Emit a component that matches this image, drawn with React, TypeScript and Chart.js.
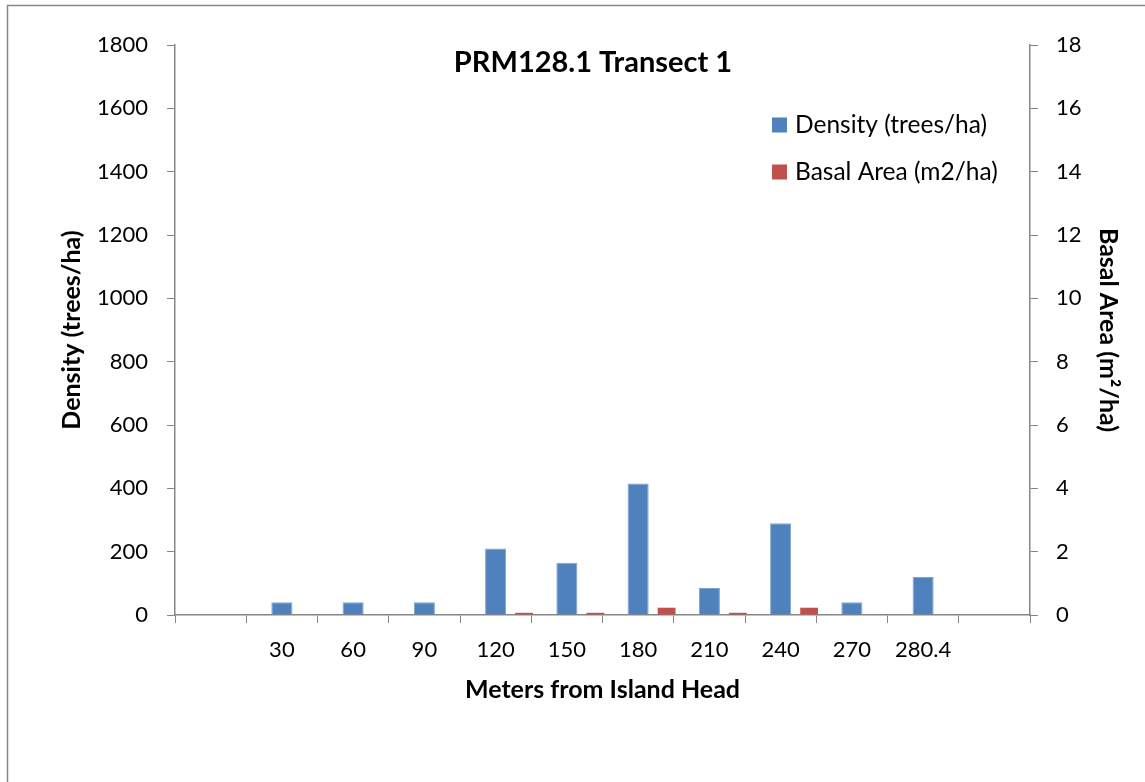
import React, { useEffect, useRef } from "react";
import { Chart, registerables } from "chart.js";

Chart.register(...registerables);

const categories = ["", "30", "60", "90", "120", "150", "180", "210", "240", "270", "280.4", ""];
const density = [null, 40, 40, 40, 210, 165, 415, 85, 290, 40, 120, null];
const basalArea = [null, 0, 0, 0, 0.07, 0.07, 0.23, 0.07, 0.23, 0, 0, null];
const blanks = categories.map(() => null);

const chartTitle = "PRM128.1 Transect 1";
const densityLabel = "Density (trees/ha)";
const basalLabel = "Basal Area (m2/ha)";
const xTitle = "Meters from Island Head";
const yLeftTitle = "Density (trees/ha)";
const yRightTitle = "Basal Area (m\u00B2/ha)";

const BLUE = "#4F81BD";
const RED = "#C0504D";
const AXIS = "#868686";
const FONT = "Lato";

export default function App() {
  const ref = useRef<HTMLCanvasElement>(null);

  useEffect(() => {
    const canvas = ref.current!;
    const decor = {
      id: "decor",
      beforeDraw(chart: any) {
        const ctx = chart.ctx;
        ctx.save();
        ctx.fillStyle = "#fff";
        ctx.fillRect(0, 0, chart.width, chart.height);
        ctx.strokeStyle = AXIS;
        ctx.lineWidth = 1.5;
        ctx.beginPath();
        ctx.moveTo(7.5, 782);
        ctx.lineTo(7.5, 5.5);
        ctx.lineTo(1145, 5.5);
        ctx.stroke();
        ctx.restore();
      },
      afterDraw(chart: any) {
        const ctx = chart.ctx;
        ctx.save();
        ctx.fillStyle = "#000";
        ctx.textBaseline = "middle";
        ctx.textAlign = "center";
        ctx.font = `bold 29px ${FONT}`;
        ctx.fillText(chartTitle, 593, 63);
        ctx.textAlign = "left";
        ctx.font = `24.5px ${FONT}`;
        const items = [
          { label: densityLabel, color: BLUE, y: 125 },
          { label: basalLabel, color: RED, y: 172 },
        ];
        for (const it of items) {
          ctx.fillStyle = it.color;
          ctx.fillRect(772, it.y - 7.5, 15, 15);
          ctx.fillStyle = "#000";
          ctx.fillText(it.label, 795, it.y);
        }
        ctx.restore();
      },
    };

    const chart = new Chart(canvas, {
      type: "bar",
      data: {
        labels: categories,
        datasets: [
          { label: "", data: blanks, yAxisID: "y", stack: "s0" },
          { label: "", data: blanks, yAxisID: "y", stack: "s1" },
          {
            label: densityLabel,
            data: density,
            yAxisID: "y",
            stack: "s2",
            backgroundColor: BLUE,
            borderColor: "#7DA3D3",
            borderWidth: 1,
            barPercentage: 1.48,
          },
          { label: "", data: blanks, yAxisID: "y", stack: "s3" },
          {
            label: basalLabel,
            data: basalArea,
            yAxisID: "y1",
            stack: "s4",
            backgroundColor: RED,
            barPercentage: 1.25,
          },
        ] as any,
      },
      options: {
        animation: false,
        responsive: false,
        maintainAspectRatio: false,
        layout: { padding: { top: 45, left: 0, right: 0, bottom: 0 } },
        datasets: { bar: { categoryPercentage: 1 } } as any,
        plugins: {
          legend: { display: false },
          title: { display: false },
          tooltip: { enabled: false },
        },
        scales: {
          x: {
            type: "category",
            offset: true,
            grid: {
              offset: true,
              drawOnChartArea: false,
              drawTicks: true,
              tickLength: 8,
              color: AXIS,
            },
            border: { display: true, color: AXIS, width: 1.5 },
            ticks: {
              autoSkip: false,
              maxRotation: 0,
              minRotation: 0,
              padding: 14,
              color: "#000",
              font: { family: FONT, size: 22 },
            },
            title: {
              display: true,
              text: xTitle,
              color: "#000",
              font: { family: FONT, size: 25, weight: "bold" },
              padding: { top: 0, bottom: 77 },
            },
            afterFit(scale: any) {
              scale.height = 167;
            },
          },
          y: {
            position: "left",
            min: 0,
            max: 1800,
            grid: { drawOnChartArea: false, tickLength: 8, color: AXIS },
            border: { display: true, color: AXIS, width: 1.5 },
            ticks: {
              stepSize: 200,
              padding: 19,
              color: "#000",
              font: { family: FONT, size: 22 },
              callback: (v: any) => String(v),
            },
            title: {
              display: true,
              text: yLeftTitle,
              color: "#000",
              font: { family: FONT, size: 25, weight: "bold" },
              padding: { top: 57, bottom: 0 },
            },
            afterFit(scale: any) {
              scale.width = 175;
            },
          },
          y1: {
            position: "right",
            min: 0,
            max: 18,
            grid: { drawOnChartArea: false, tickLength: 8, color: AXIS },
            border: { display: true, color: AXIS, width: 1.5 },
            ticks: {
              stepSize: 2,
              padding: 18,
              color: "#000",
              font: { family: FONT, size: 22 },
              callback: (v: any) => String(v),
            },
            title: {
              display: true,
              text: yRightTitle,
              color: "#000",
              font: { family: FONT, size: 25, weight: "bold" },
              padding: { top: 22, bottom: 0 },
            },
            afterFit(scale: any) {
              scale.width = 115;
            },
          },
        },
      } as any,
      plugins: [decor],
    });
    return () => chart.destroy();
  }, []);

  return (
    <div style={{ position: "fixed", left: 0, top: 0, width: 1145, height: 782 }}>
      <canvas ref={ref} width={1145} height={782} style={{ width: 1145, height: 782, display: "block" }} />
    </div>
  );
}
